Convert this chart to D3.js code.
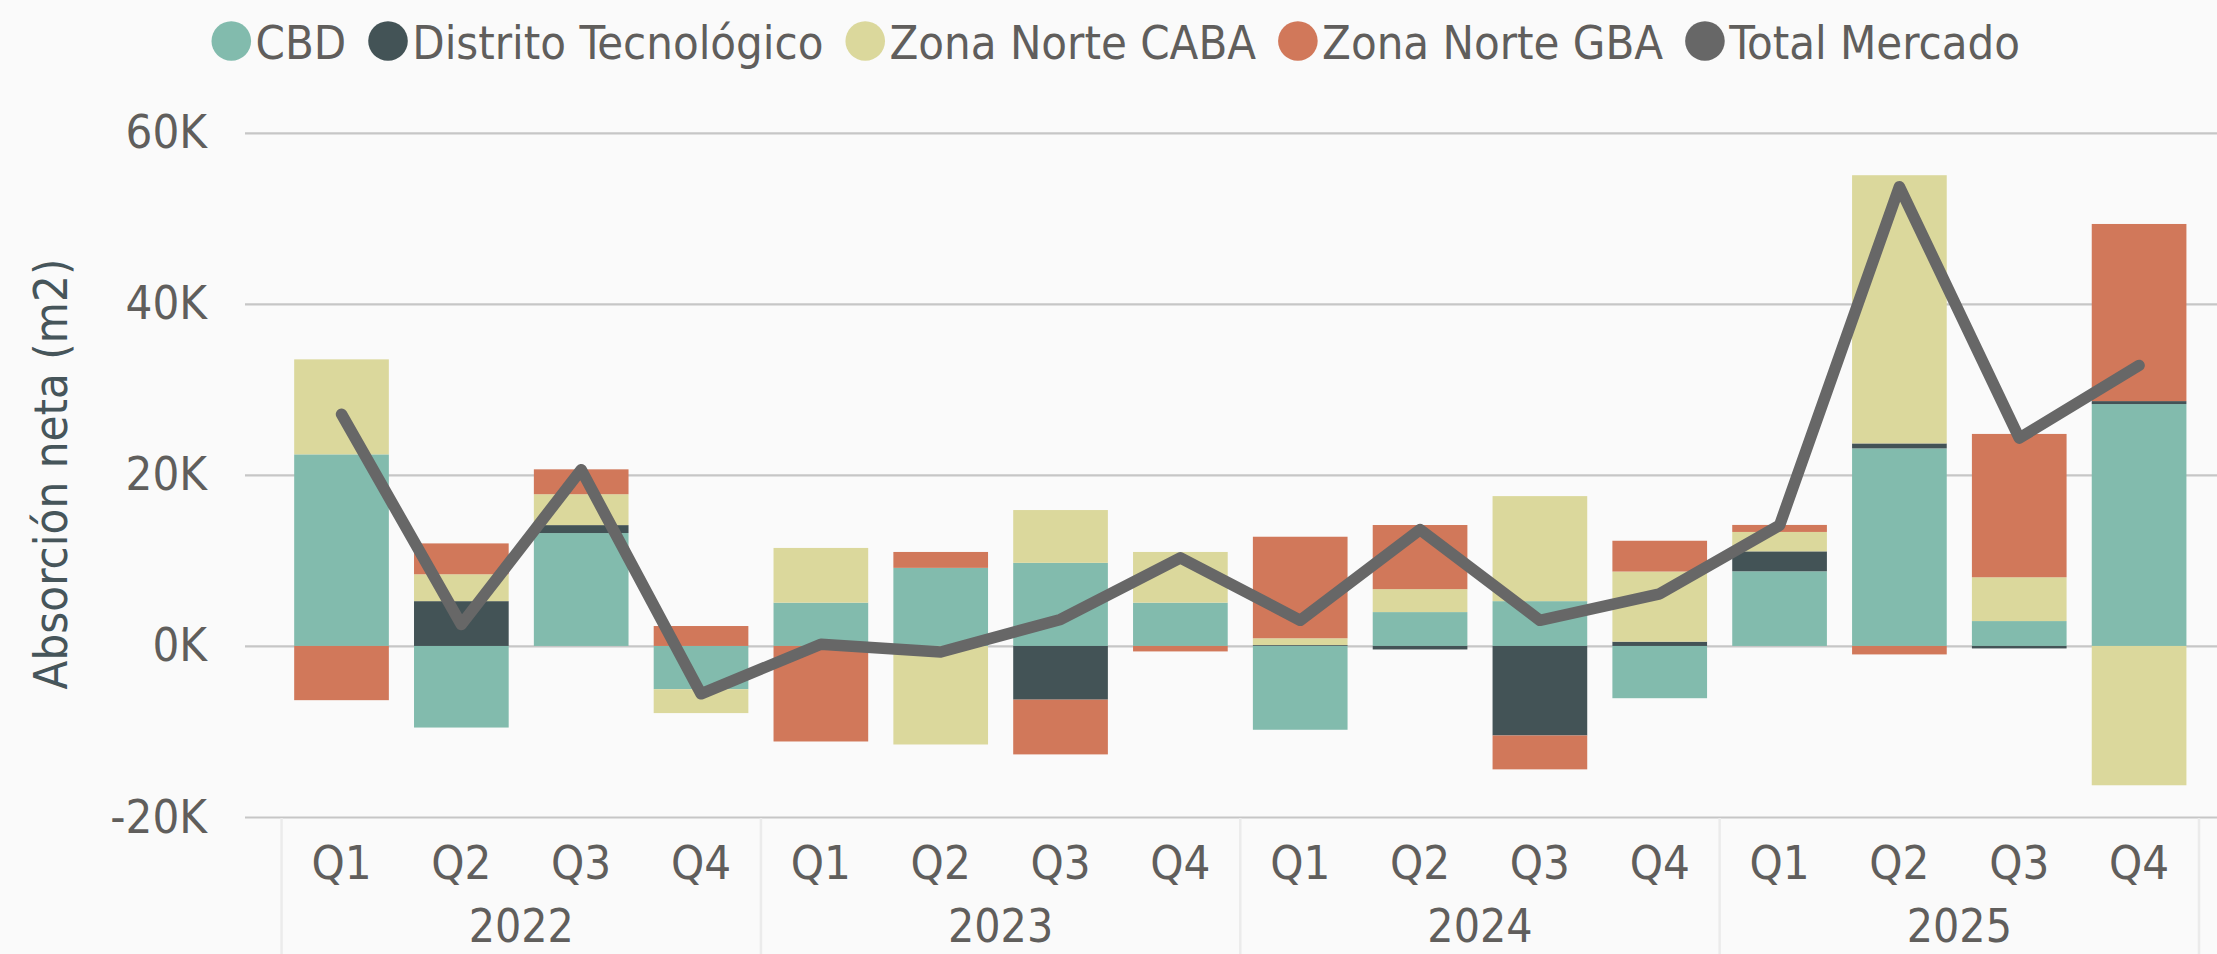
<!DOCTYPE html>
<html>
<head>
<meta charset="utf-8">
<script src="https://cdn.jsdelivr.net/npm/d3@7"></script>
<style>
  html, body { margin: 0; padding: 0; background: #fafafa; }
  svg text { font-family: "DejaVu Sans Condensed", "DejaVu Sans", sans-serif; font-stretch: condensed; }
</style>
</head>
<body>
<div id="chart"></div>
<script>
// quarters and years
var years = ["2022", "2023", "2024", "2025"];
var quarters = ["Q1", "Q2", "Q3", "Q4"];

// net absorption (m2) per zone, 2022 Q1 .. 2025 Q4
var cbd      = [22400, -9540, 13200, -5060,  5060,   9130,  9720,  5060, -9800,  3960,   5240, -6110,  8730, 23100,  2910, 28280];
var distrito = [    0,  5240,   930,     0,     0,      0, -6280,     0,   100,  -410, -10470,   500,  2330,   580,  -290,   350];
var zonaCaba = [11110,  3140,  3610, -2790,  6400, -11520,  6170,  5930,   800,  2680,  12280,  8200,  2270, 31360,  5120, -16290];
var zonaGba  = [-6340,  3610,  2910,  2330, -11170,  1860, -6400,  -640, 11870,  7500,  -3960,  3600,   820,  -990, 16760, 20710];
var totalMercado = [27100, 2500, 20600, -5600, 200, -700, 3100, 10300, 3000, 13600, 3000, 6100, 14100, 53700, 24300, 32800];

var seriesNames = ["CBD", "Distrito Tecnológico", "Zona Norte CABA", "Zona Norte GBA"];
var lineName = "Total Mercado";
var colors = ["#82bbad", "#435356", "#dbd89c", "#d1785a"];
var lineColor = "#676767";
var yTicks = [-20000, 0, 20000, 40000, 60000];

var W = 2217, H = 954;
var textColor = "#605e5c";

// build rows for the stack
var rows = [];
years.forEach(function(y, yi){
  quarters.forEach(function(q, qi){
    var i = yi * 4 + qi;
    var r = { key: y + "-" + q, year: y, q: q, total: totalMercado[i] };
    r[seriesNames[0]] = cbd[i];
    r[seriesNames[1]] = distrito[i];
    r[seriesNames[2]] = zonaCaba[i];
    r[seriesNames[3]] = zonaGba[i];
    rows.push(r);
  });
});

var svg = d3.select("#chart").append("svg")
  .attr("width", W).attr("height", H);

svg.append("rect").attr("width", W).attr("height", H).attr("fill", "#fafafa");

var xLeft = 281.6, xRight = 2199;
var x = d3.scaleBand()
  .domain(rows.map(function(d){ return d.key; }))
  .range([xLeft, xRight])
  .paddingInner(0.21)
  .paddingOuter(0.105);

var y = d3.scaleLinear()
  .domain([-20000, 60000])
  .range([817, 132.8]);

// gridlines + y labels
var yAxis = svg.append("g")
  .attr("transform", "translate(245,0)")
  .call(d3.axisLeft(y)
    .tickValues(yTicks)
    .tickSize(-(W - 245))
    .tickPadding(38)
    .tickFormat(function(d){ return (d / 1000) + "K"; }));
yAxis.select(".domain").remove();
yAxis.selectAll("line").attr("stroke", "#c6c6c6").attr("stroke-width", 2.2);
yAxis.selectAll("text")
  .attr("fill", textColor)
  .style("font-size", "47px");

// y title
svg.append("text")
  .attr("transform", "translate(67,474) rotate(-90)")
  .attr("text-anchor", "middle")
  .attr("fill", "#46555a")
  .style("font-size", "47px")
  .text("Absorción neta (m2)");

// stacked bars
var stack = d3.stack()
  .keys(seriesNames)
  .offset(d3.stackOffsetDiverging);
var stacked = stack(rows);

svg.append("g").selectAll("g")
  .data(stacked)
  .enter().append("g")
  .attr("fill", function(d, i){ return colors[i]; })
  .selectAll("rect")
  .data(function(d){ return d; })
  .enter().append("rect")
  .attr("x", function(d){ return x(d.data.key); })
  .attr("width", x.bandwidth())
  .attr("y", function(d){ return y(Math.max(d[0], d[1])); })
  .attr("height", function(d){ return Math.abs(y(d[0]) - y(d[1])); });

// total line
var line = d3.line()
  .x(function(d){ return x(d.key) + x.bandwidth() / 2; })
  .y(function(d){ return y(d.total); });

svg.append("path")
  .datum(rows)
  .attr("d", line)
  .attr("fill", "none")
  .attr("stroke", lineColor)
  .attr("stroke-width", 11.5)
  .attr("stroke-linejoin", "round")
  .attr("stroke-linecap", "round");

// x axis: quarters and year groups
var step = x.step();
var xg = svg.append("g");
xg.selectAll(".qlab")
  .data(rows)
  .enter().append("text")
  .attr("class", "qlab")
  .attr("x", function(d){ return x(d.key) + x.bandwidth() / 2; })
  .attr("y", 879)
  .attr("text-anchor", "middle")
  .attr("fill", textColor)
  .style("font-size", "47px")
  .text(function(d){ return d.q; });

xg.selectAll(".ylab")
  .data(years)
  .enter().append("text")
  .attr("class", "ylab")
  .attr("x", function(d, i){ return xLeft + step * (i * 4 + 2); })
  .attr("y", 942)
  .attr("text-anchor", "middle")
  .attr("fill", textColor)
  .style("font-size", "46px")
  .text(function(d){ return d; });

xg.selectAll(".sep")
  .data(d3.range(years.length + 1))
  .enter().append("line")
  .attr("class", "sep")
  .attr("x1", function(d){ return xLeft + step * 4 * d; })
  .attr("x2", function(d){ return xLeft + step * 4 * d; })
  .attr("y1", 818)
  .attr("y2", H)
  .attr("stroke", "#ebebeb")
  .attr("stroke-width", 2.5);

// legend
var legendItems = seriesNames.map(function(n, i){ return { name: n, color: colors[i] }; })
  .concat([{ name: lineName, color: lineColor }]);
var cursor = 211.5;
var lg = svg.append("g");
legendItems.forEach(function(it){
  lg.append("circle")
    .attr("cx", cursor + 19.8)
    .attr("cy", 41)
    .attr("r", 19.8)
    .attr("fill", it.color);
  var t = lg.append("text")
    .attr("x", cursor + 44)
    .attr("y", 59.3)
    .attr("fill", textColor)
    .style("font-size", "46.8px")
    .text(it.name);
  cursor += 44 + t.node().getComputedTextLength() + 22;
});
</script>
</body>
</html>
